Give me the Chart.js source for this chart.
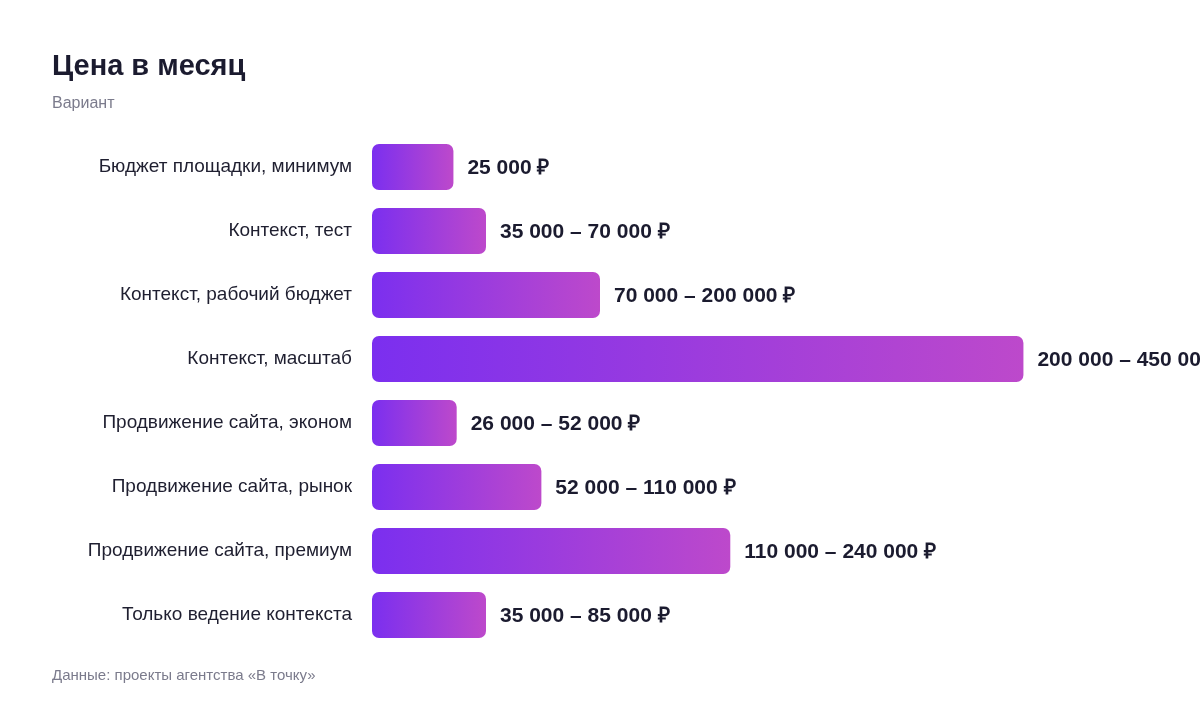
<!DOCTYPE html>
<html lang="ru">
<head>
<meta charset="utf-8">
<script src="https://cdn.jsdelivr.net/npm/chart.js@4/dist/chart.umd.min.js"></script>
<style>
  html, body { margin: 0; padding: 0; background: #ffffff; }
  body { width: 1200px; height: 712px; position: relative; overflow: hidden; font-family: "Liberation Sans", Arial, sans-serif; }
  #wrap { position: absolute; left: 0; top: 0; width: 1200px; height: 712px; }
  .title { position: absolute; left: 52px; top: 48px; font-size: 29px; line-height: 34px; font-weight: 700; color: #1b1b2f; }
  .subtitle { position: absolute; left: 52px; top: 93px; font-size: 16px; line-height: 20px; color: #7b7b8c; }
  .footer { position: absolute; left: 52px; top: 666px; font-size: 15px; line-height: 18px; color: #7b7b8c; }
</style>
</head>
<body>
<div id="wrap"><canvas id="c" width="1200" height="712"></canvas></div>
<div class="title">Цена в месяц</div>
<div class="subtitle">Вариант</div>
<div class="footer">Данные: проекты агентства «В точку»</div>
<script>
const categories = [
  "Бюджет площадки, минимум",
  "Контекст, тест",
  "Контекст, рабочий бюджет",
  "Контекст, масштаб",
  "Продвижение сайта, эконом",
  "Продвижение сайта, рынок",
  "Продвижение сайта, премиум",
  "Только ведение контекста"
];
const minValues = [25000, 35000, 70000, 200000, 26000, 52000, 110000, 35000];
const valueLabels = [
  "25 000 ₽",
  "35 000 – 70 000 ₽",
  "70 000 – 200 000 ₽",
  "200 000 – 450 000 ₽",
  "26 000 – 52 000 ₽",
  "52 000 – 110 000 ₽",
  "110 000 – 240 000 ₽",
  "35 000 – 85 000 ₽"
];
const axisMax = 245000;

function barGradient(ctx) {
  const chart = ctx.chart;
  const xs = chart.scales && chart.scales.x;
  if (!chart.chartArea || !xs) return '#7b2fef';
  const v = ctx.raw;
  const x0 = xs.getPixelForValue(0);
  const x1 = xs.getPixelForValue(v);
  const g = chart.ctx.createLinearGradient(x0, 0, Math.max(x1, x0 + 1), 0);
  g.addColorStop(0, '#7b2fef');
  g.addColorStop(1, '#bd49cb');
  return g;
}

const valueLabelPlugin = {
  id: 'valueLabels',
  afterDatasetsDraw(chart) {
    const c = chart.ctx;
    const meta = chart.getDatasetMeta(0);
    c.save();
    c.fillStyle = '#1b1b2f';
    c.font = 'bold 21px "Liberation Sans", Arial, sans-serif';
    c.textAlign = 'left';
    c.textBaseline = 'middle';
    meta.data.forEach((el, i) => {
      c.fillText(valueLabels[i], el.x + 14, el.y + 1);
    });
    c.restore();
  }
};

new Chart(document.getElementById('c'), {
  type: 'bar',
  data: {
    labels: categories,
    datasets: [{
      data: minValues,
      backgroundColor: barGradient,
      borderRadius: 7,
      borderSkipped: false,
      categoryPercentage: 1,
      barPercentage: 0.72
    }]
  },
  options: {
    indexAxis: 'y',
    responsive: false,
    animation: false,
    events: [],
    layout: { padding: { top: 135, bottom: 65, left: 0, right: 30 } },
    plugins: { legend: { display: false }, tooltip: { enabled: false }, title: { display: false } },
    scales: {
      x: {
        display: false,
        min: 0,
        max: axisMax
      },
      y: {
        afterFit(scale) { scale.width = 372; },
        grid: { display: false, drawTicks: false },
        border: { display: false },
        ticks: {
          padding: 20,
          color: '#1f1f30',
          font: { family: '"Liberation Sans", Arial, sans-serif', size: 19 }
        }
      }
    }
  },
  plugins: [valueLabelPlugin]
});
</script>
</body>
</html>
